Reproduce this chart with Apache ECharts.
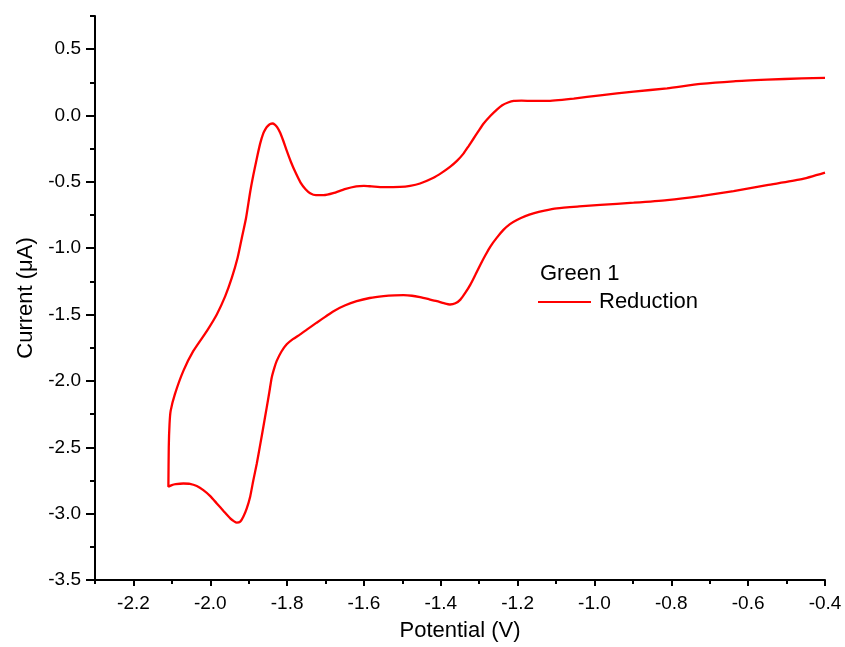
<!DOCTYPE html>
<html>
<head>
<meta charset="utf-8">
<script src="https://cdn.jsdelivr.net/npm/echarts@6/dist/echarts.min.js"></script>
<style>
  html, body { margin: 0; padding: 0; background: #ffffff; }
  #chart { width: 845px; height: 647px; }
</style>
</head>
<body>
<div id="chart"></div>
<script>
// Cyclic voltammogram: one continuous sweep, listed in path order
// (upper branch from -0.4 V down to the switching potential, then back).
const potential = [
  -0.400, -0.460, -0.551, -0.638, -0.724, -0.811, -0.898, -0.985, -1.054, -1.124,
  -1.159, -1.190, -1.210, -1.225, -1.240, -1.254, -1.270, -1.289, -1.302, -1.315,
  -1.328, -1.341, -1.358, -1.376, -1.398, -1.419, -1.454, -1.480, -1.506, -1.550,
  -1.580, -1.600, -1.620, -1.650, -1.680, -1.705, -1.725, -1.740, -1.752, -1.765,
  -1.778, -1.790, -1.801, -1.810, -1.818, -1.826, -1.832, -1.838, -1.844, -1.850,
  -1.856, -1.862, -1.870, -1.879, -1.888, -1.896, -1.907, -1.918, -1.929, -1.944,
  -1.961, -1.983, -2.009, -2.044, -2.070, -2.092, -2.103, -2.106, -2.108, -2.109,
  -2.100, -2.090, -2.070, -2.053, -2.035, -2.018, -2.000, -1.983, -1.965, -1.948,
  -1.938, -1.931, -1.922, -1.914, -1.905, -1.896, -1.888, -1.879, -1.870, -1.862,
  -1.853, -1.846, -1.840, -1.833, -1.827, -1.815, -1.801, -1.785, -1.766, -1.745,
  -1.723, -1.700, -1.679, -1.650, -1.619, -1.585, -1.549, -1.520, -1.497, -1.475,
  -1.454, -1.430, -1.410, -1.392, -1.376, -1.362, -1.349, -1.336, -1.323, -1.310,
  -1.297, -1.284, -1.271, -1.254, -1.237, -1.220, -1.202, -1.180, -1.159, -1.130,
  -1.098, -1.040, -0.985, -0.898, -0.811, -0.724, -0.638, -0.551, -0.464, -0.400
];
const current = [
   0.283,  0.280,  0.270,  0.258,  0.238,  0.205,  0.180,  0.152,  0.128,  0.110,
   0.110,  0.112,  0.110,  0.098,  0.078,  0.045,  0.000, -0.062, -0.118, -0.175,
  -0.232, -0.287, -0.342, -0.387, -0.432, -0.469, -0.512, -0.530, -0.538, -0.540,
  -0.534, -0.530, -0.534, -0.555, -0.585, -0.600, -0.600, -0.585, -0.555, -0.505,
  -0.430, -0.350, -0.265, -0.190, -0.130, -0.088, -0.068, -0.060, -0.064, -0.078,
  -0.100, -0.135, -0.210, -0.325, -0.450, -0.574, -0.774, -0.924, -1.074, -1.224,
  -1.361, -1.499, -1.624, -1.774, -1.924, -2.099, -2.224, -2.324, -2.500, -2.798,
  -2.785, -2.778, -2.773, -2.775, -2.792, -2.823, -2.868, -2.923, -2.982, -3.036,
  -3.058, -3.068, -3.060, -3.023, -2.960, -2.870, -2.750, -2.624, -2.480, -2.349,
  -2.199, -2.080, -1.974, -1.900, -1.849, -1.780, -1.724, -1.685, -1.649, -1.606,
  -1.561, -1.515, -1.474, -1.432, -1.399, -1.375, -1.361, -1.355, -1.354, -1.358,
  -1.369, -1.385, -1.399, -1.414, -1.424, -1.415, -1.387, -1.335, -1.274, -1.200,
  -1.124, -1.053, -0.987, -0.920, -0.862, -0.818, -0.787, -0.758, -0.737, -0.716,
  -0.699, -0.685, -0.674, -0.657, -0.637, -0.607, -0.570, -0.525, -0.482, -0.430
];

// Labelled tick positions
const xTicks = [-2.2, -2.0, -1.8, -1.6, -1.4, -1.2, -1.0, -0.8, -0.6, -0.4];
const yTicks = [-3.5, -3.0, -2.5, -2.0, -1.5, -1.0, -0.5, 0.0, 0.5];

const legendTitle = 'Green 1';
const seriesName = 'Reduction';

const FONT = '"Liberation Sans", Arial, sans-serif';
const AX = { onZero: false, lineStyle: { color: '#000', width: 2 } };

const points = potential.map((v, i) => [v, current[i]]);

const chart = echarts.init(document.getElementById('chart'), null, { renderer: 'canvas' });
chart.setOption({
  backgroundColor: '#ffffff',
  animation: false,
  title: {
    text: legendTitle,
    left: 540, top: 263, padding: 0,
    textStyle: { fontFamily: FONT, fontSize: 22, fontWeight: 'normal', color: '#000' }
  },
  legend: {
    left: 538, top: 291, padding: 0,
    icon: 'rect', itemWidth: 53, itemHeight: 2,
    data: [seriesName],
    textStyle: { fontFamily: FONT, fontSize: 22, color: '#000', padding: [0, 0, 0, 3] }
  },
  grid: { left: 95, right: 20, top: 16, bottom: 63, containLabel: false },
  xAxis: [
    {
      type: 'value', min: -2.3, max: -0.4, position: 'bottom',
      name: 'Potential (V)', nameLocation: 'middle', nameGap: 40,
      nameTextStyle: { fontFamily: FONT, fontSize: 22, color: '#000' },
      axisLine: AX,
      axisTick: { show: true, length: 6, customValues: xTicks, lineStyle: { color: '#000', width: 2 } },
      axisLabel: {
        customValues: xTicks, margin: 14,
        fontFamily: FONT, fontSize: 19, color: '#000',
        formatter: v => v.toFixed(1)
      },
      splitLine: { show: false }
    },
    {
      // minor ticks every 0.1 V
      type: 'value', min: -2.3, max: -0.4, interval: 0.1, position: 'bottom', offset: 0,
      axisLine: { show: false, onZero: false },
      axisTick: { show: true, length: 4, lineStyle: { color: '#000', width: 2 } },
      axisLabel: { show: false },
      splitLine: { show: false }
    }
  ],
  yAxis: [
    {
      type: 'value', min: -3.5, max: 0.75, position: 'left',
      name: 'Current (\u03bcA)', nameLocation: 'middle', nameGap: 58,
      nameTextStyle: { fontFamily: FONT, fontSize: 22, color: '#000' },
      axisLine: AX,
      axisTick: { show: true, length: 9, customValues: yTicks, lineStyle: { color: '#000', width: 2 } },
      axisLabel: {
        customValues: yTicks, margin: 14,
        fontFamily: FONT, fontSize: 19, color: '#000',
        formatter: v => v.toFixed(1)
      },
      splitLine: { show: false }
    },
    {
      // minor ticks every 0.25 µA
      type: 'value', min: -3.5, max: 0.75, interval: 0.25, position: 'left', offset: 0,
      axisLine: { show: false, onZero: false },
      axisTick: { show: true, length: 5, lineStyle: { color: '#000', width: 2 } },
      axisLabel: { show: false },
      splitLine: { show: false }
    }
  ],
  series: [{
    name: seriesName,
    type: 'line',
    xAxisIndex: 0, yAxisIndex: 0,
    data: points,
    showSymbol: false, symbol: 'none',
    smooth: 0.2,
    lineStyle: { color: '#ff0000', width: 2.3 },
    itemStyle: { color: '#ff0000' }
  }]
});
</script>
</body>
</html>
